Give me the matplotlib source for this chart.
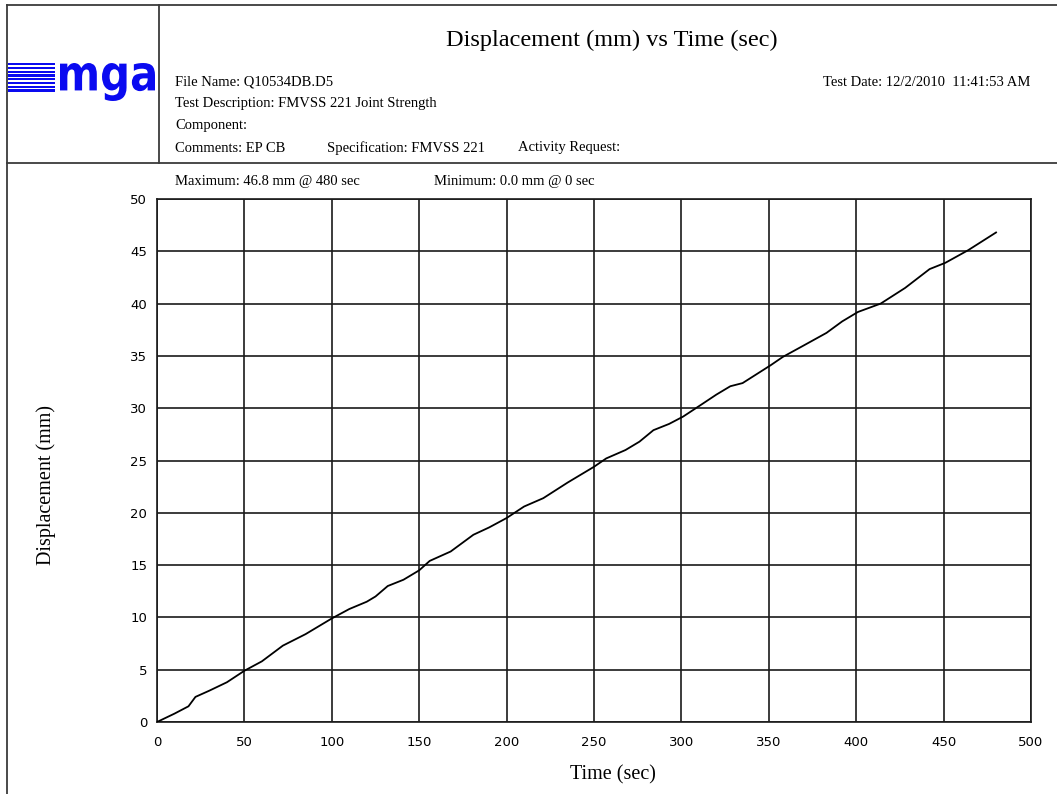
import matplotlib
matplotlib.use("Agg")
import matplotlib.pyplot as plt
from matplotlib.textpath import TextPath
from matplotlib.font_manager import FontProperties
from matplotlib.patches import PathPatch, Rectangle
from matplotlib.transforms import Affine2D

# data
time_s = [0, 10, 18, 22, 30, 40, 50, 60, 72, 85, 100, 110, 120, 125, 132, 141,
          150, 156, 168, 181, 190, 200, 210, 221, 235, 250, 257, 268, 276, 284,
          293, 301, 311, 320, 328, 335, 351, 358, 370, 383, 392, 401, 414, 428,
          442, 451, 464, 480]
disp_mm = [0, 0.8, 1.5, 2.4, 3.0, 3.8, 4.9, 5.8, 7.3, 8.4, 9.9, 10.8, 11.5, 12.0,
           13.0, 13.6, 14.5, 15.4, 16.3, 17.9, 18.6, 19.5, 20.6, 21.4, 22.9, 24.4,
           25.2, 26.0, 26.8, 27.9, 28.5, 29.2, 30.3, 31.3, 32.1, 32.4, 34.1, 34.9,
           36.0, 37.2, 38.3, 39.2, 40.0, 41.5, 43.3, 43.9, 45.1, 46.8]
x_ticks = [0, 50, 100, 150, 200, 250, 300, 350, 400, 450, 500]
y_ticks = [0, 5, 10, 15, 20, 25, 30, 35, 40, 45, 50]

W, H = 1057, 794
fig = plt.figure(figsize=(W / 100, H / 100), dpi=100)
fig.patch.set_facecolor("white")

serif = "Liberation Serif"
edge = "#3a3a3a"

# page overlay in pixel coordinates
page = fig.add_axes([0, 0, 1, 1], zorder=0)
page.set_xlim(0, W)
page.set_ylim(H, 0)
page.axis("off")

page.plot([7, W], [5, 5], color=edge, lw=1.3)
page.plot([7, 7], [5, H], color=edge, lw=1.3)
page.plot([159, 159], [5, 163], color=edge, lw=1.3)
page.plot([7, W], [163, 163], color=edge, lw=1.3)

# logo
blue = "#0a0af0"
for k in range(8):
    page.add_patch(Rectangle((8, 63 + k * 3.75), 47, 2.3, color=blue, lw=0))
tp = TextPath((0, 0), "mga", size=1, prop=FontProperties(family="DejaVu Sans", weight="bold"))
ext = tp.get_extents()
sx = (155 - 60) / ext.width
sy = (101 - 63) / ext.height
tr = Affine2D().translate(-ext.x0, -ext.y1).scale(sx, -sy).translate(60, 63)
page.add_patch(PathPatch(tr.transform_path(tp), color=blue, lw=0))

# header texts
page.text(612, 40, "Displacement (mm) vs Time (sec)", family=serif, fontsize=17.5,
          ha="center", va="center")
hdr = dict(family=serif, fontsize=10.5, va="center")
page.text(175, 82, "File Name: Q10534DB.D5", **hdr)
page.text(175, 104, "Test Description: FMVSS 221 Joint Strength", **hdr)
page.text(175, 126, "Component:", **hdr)
page.text(175, 148, "Comments: EP CB", **hdr)
page.text(327, 148, "Specification: FMVSS 221", **hdr)
page.text(518, 148, "Activity Request:", **hdr)
page.text(1030, 82, "Test Date: 12/2/2010  11:41:53 AM", ha="right", **hdr)
page.text(175, 181, "Maximum: %.1f mm @ %d sec" % (max(disp_mm), time_s[disp_mm.index(max(disp_mm))]), **hdr)
page.text(434, 181, "Minimum: %.1f mm @ %d sec" % (min(disp_mm), time_s[disp_mm.index(min(disp_mm))]), **hdr)

# chart
ax = fig.add_axes([157 / W, 1 - 722 / H, (1031 - 157) / W, (722 - 199) / H], zorder=1)
ax.patch.set_alpha(0)
ax.plot(time_s, disp_mm, color="black", lw=1.3, zorder=3)
ax.set_xlim(0, 500)
ax.set_ylim(0, 50)
ax.set_xticks(x_ticks)
ax.set_yticks(y_ticks)
ax.grid(True, color="#1a1a1a", lw=1.2)
for s in ax.spines.values():
    s.set_color("#1a1a1a")
    s.set_linewidth(1.2)
ax.tick_params(length=0, labelsize=9.5, colors="black")
ax.tick_params(axis="y", pad=7)
ax.tick_params(axis="x", pad=10)
for lab in ax.get_xticklabels() + ax.get_yticklabels():
    lab.set_family("DejaVu Sans")
ax.set_xlabel("Time (sec)", family=serif, fontsize=14.5)
ax.set_ylabel("Displacement (mm)", family=serif, fontsize=14.5)
ax.xaxis.set_label_coords(0.522, -0.083)
ax.yaxis.set_label_coords(-0.115, 0.453)

fig.savefig("out.png", dpi=100)
